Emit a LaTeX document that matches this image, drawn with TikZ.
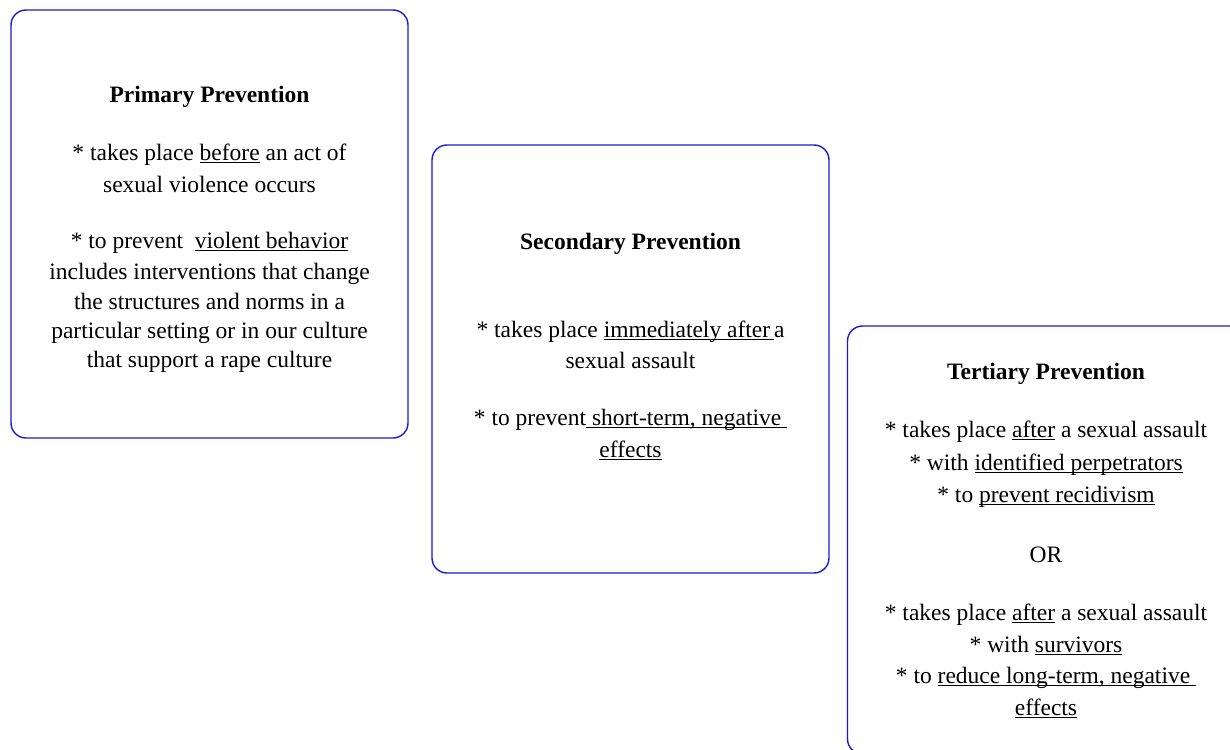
\documentclass[tikz,border=0pt]{standalone}
\usepackage{fontspec}
\setmainfont{Liberation Serif}
\definecolor{boxblue}{RGB}{25,25,215}
\newsavebox\ulbox
\newcommand\myul[1]{\sbox\ulbox{#1}\rlap{\rule[-3pt]{\wd\ulbox}{1.3pt}}\usebox\ulbox}
\tikzset{
  pbox/.style={draw=boxblue, line width=1.4pt, rounded corners=15pt, minimum width=397pt, minimum height=428pt, inner sep=0pt, fill=white},
  txt/.style={anchor=base, inner sep=0pt, font=\fontsize{23.5}{30}\selectfont},
  ttl/.style={txt, font=\fontsize{23.5}{30}\selectfont\bfseries}
}
\begin{document}
\begin{tikzpicture}[x=1pt,y=-1pt]
\useasboundingbox (0,0) rectangle (1230,749);
\clip (0,0) rectangle (1230,749);
\fill[white] (0,0) rectangle (1230,749);
% boxes
\node[pbox] (b1) at (209.5,224) {};
\node[pbox] (b2) at (630.5,359) {};
\node[pbox] (b3) at (1046,540) {};
% box 1
\node[ttl] (t1) at (209.5,102.5) {Primary Prevention};
\node[txt] (a1) at (209.5,160) {* takes place \myul{before} an act of};
\node[txt] (a2) at (209.5,192) {sexual violence occurs};
\node[txt] (a3) at (209.5,248) {* to prevent \ \myul{violent behavior}};
\node[txt] (a4) at (209.5,279) {includes interventions that change};
\node[txt] (a5) at (209.5,309) {the structures and norms in a};
\node[txt] (a6) at (209.5,338) {particular setting or in our culture};
\node[txt] (a7) at (209.5,367) {that support a rape culture};
% box 2
\node[ttl] (t2) at (630.5,249) {Secondary Prevention};
\node[txt] (c1) at (630.5,337) {* takes place \myul{immediately after\,}a};
\node[txt] (c2) at (630.5,368) {sexual assault};
\node[txt] (c3) at (630.5,425) {* to prevent\myul{ short-term, negative }};
\node[txt] (c4) at (630.5,457) {\myul{effects}};
% box 3
\node[ttl] (t3) at (1046,379) {Tertiary Prevention};
\node[txt] (d1) at (1046,437) {* takes place \myul{after} a sexual assault};
\node[txt] (d2) at (1046,470) {* with \myul{identified perpetrators}};
\node[txt] (d3) at (1046,502) {* to \myul{prevent recidivism}};
\node[txt] (d4) at (1046,562) {OR};
\node[txt] (d5) at (1046,620) {* takes place \myul{after} a sexual assault};
\node[txt] (d6) at (1046,652) {* with \myul{survivors}};
\node[txt] (d7) at (1046,683) {* to \myul{reduce long-term, negative }};
\node[txt] (d8) at (1046,715) {\myul{effects}};
\end{tikzpicture}
\end{document}
